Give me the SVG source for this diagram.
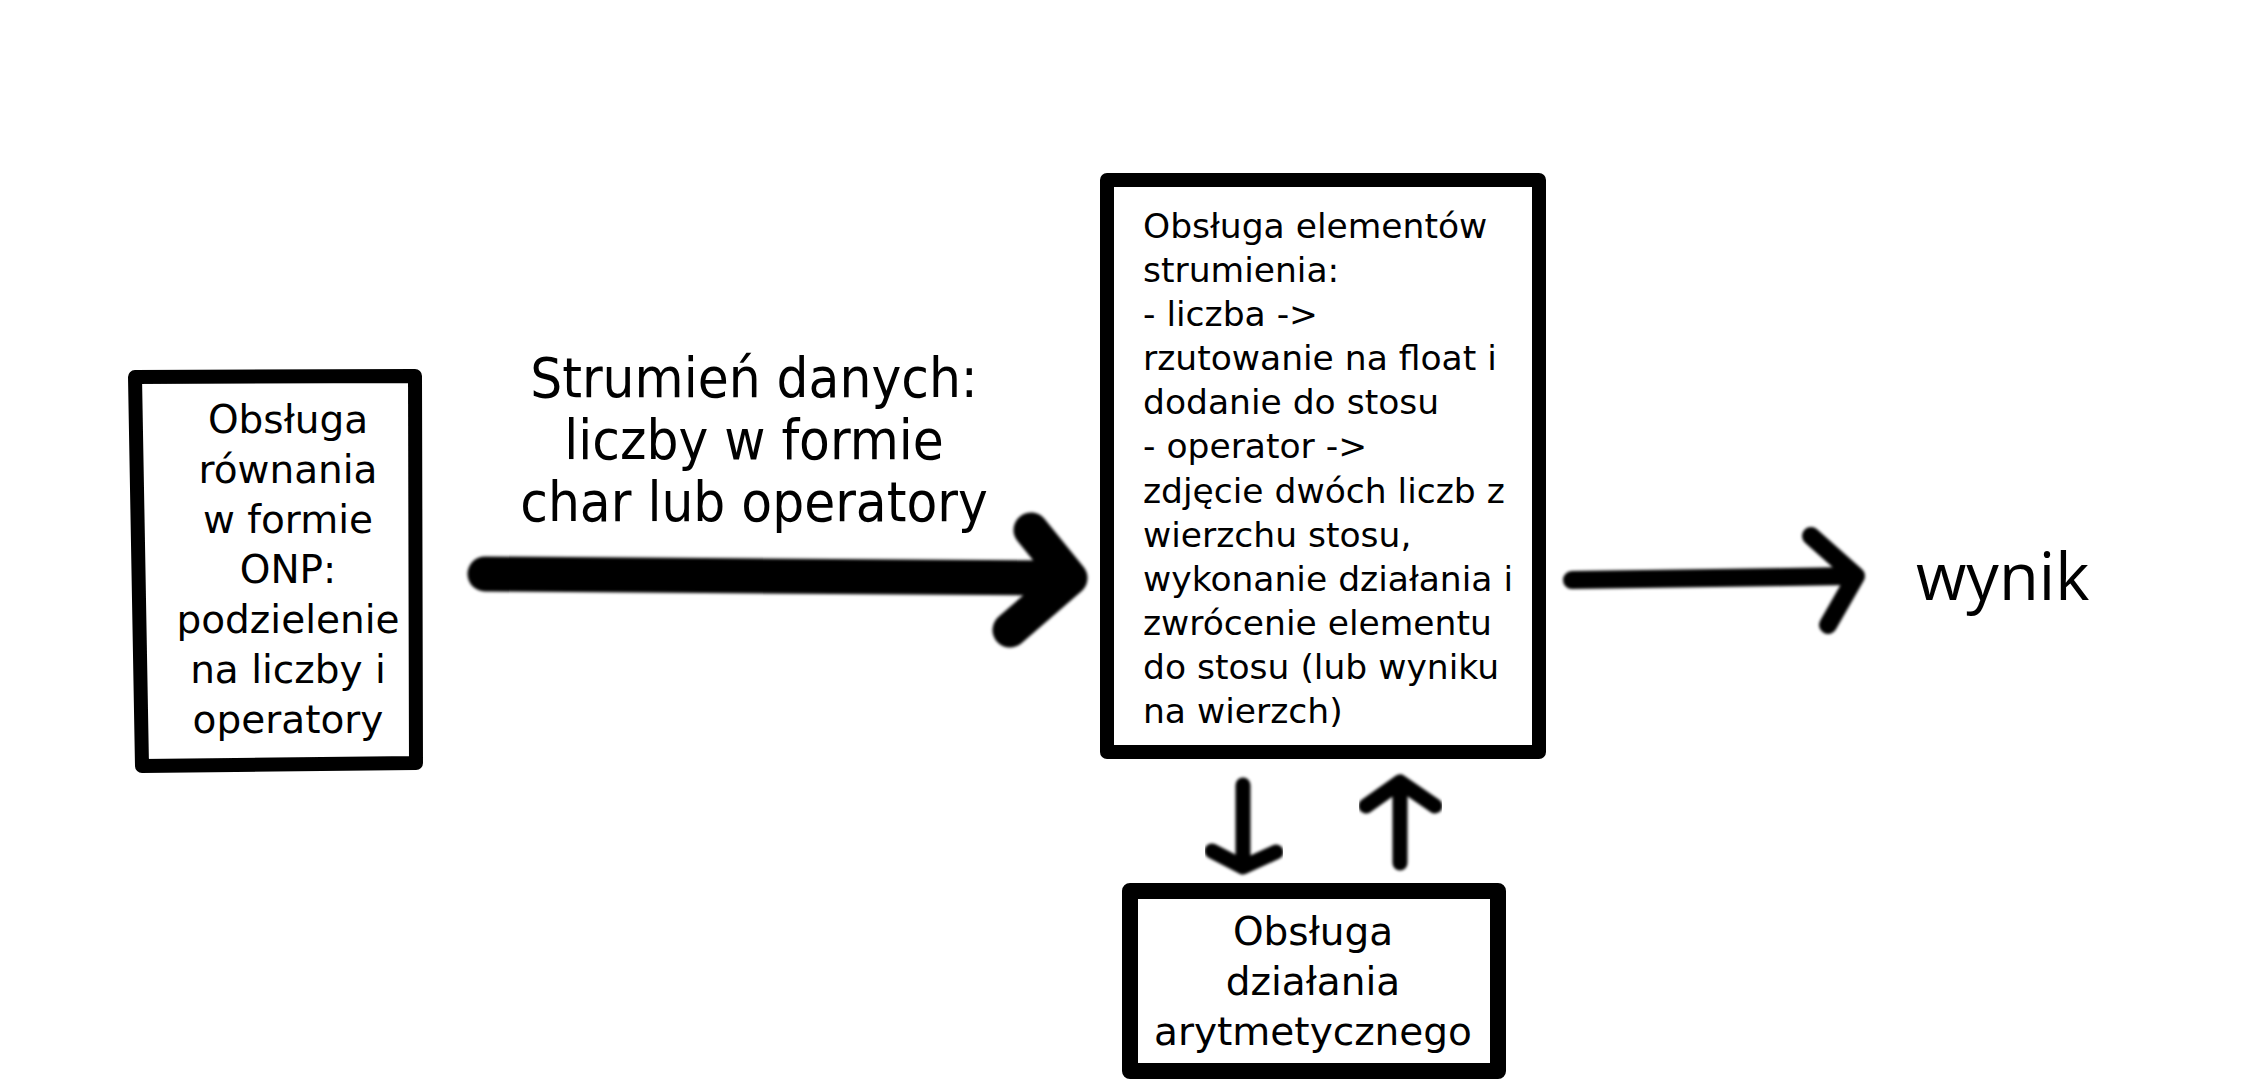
<svg xmlns="http://www.w3.org/2000/svg" width="2268" height="1080" viewBox="0 0 2268 1080">
  <defs>
    <style>
      .box { fill: #ffffff; stroke: #000000; stroke-linejoin: round; }
      .t39 { font-family: "DejaVu Sans", "Noto Sans", sans-serif; font-size: 39px; fill: #000000; text-anchor: middle; }
      .t34 { font-family: "DejaVu Sans", "Noto Sans", sans-serif; font-size: 34.5px; fill: #000000; }
      .lbl { font-family: "DejaVu Sans Condensed", "DejaVu Sans", sans-serif; font-stretch: condensed; font-size: 56px; fill: #000000; text-anchor: middle; }
      .out { font-family: "Open Sans", "Noto Sans", sans-serif; font-size: 65px; fill: #000000; }
      .arrow { fill: none; stroke: #000000; stroke-linecap: round; stroke-linejoin: round; }
    </style>
    <filter id="soft" x="-10%" y="-50%" width="120%" height="200%">
      <feGaussianBlur stdDeviation="1.8"/>
    </filter>
    <filter id="softbox" x="-5%" y="-5%" width="110%" height="110%">
      <feGaussianBlur stdDeviation="0.7"/>
    </filter>
  </defs>
  <rect x="0" y="0" width="2268" height="1080" fill="#ffffff"/>

  <g id="node-onp">
    <path class="box" filter="url(#softbox)" stroke-width="14" d="M135,377 L415,376 L416,763 L142,766 Z"/>
    <text class="t39" x="288" y="433">Obsługa</text>
    <text class="t39" x="288" y="483">równania</text>
    <text class="t39" x="288" y="533">w formie</text>
    <text class="t39" x="288" y="583">ONP:</text>
    <text class="t39" x="288" y="633">podzielenie</text>
    <text class="t39" x="288" y="683">na liczby i</text>
    <text class="t39" x="288" y="733">operatory</text>
  </g>

  <g id="node-stream">
    <rect class="box" filter="url(#softbox)" stroke-width="14" x="1107" y="180" width="432" height="572"/>
    <text class="t34" x="1143" y="238">Obsługa elementów</text>
    <text class="t34" x="1143" y="282">strumienia:</text>
    <text class="t34" x="1143" y="326">- liczba -&gt;</text>
    <text class="t34" x="1143" y="370">rzutowanie na float i</text>
    <text class="t34" x="1143" y="414">dodanie do stosu</text>
    <text class="t34" x="1143" y="458">- operator -&gt;</text>
    <text class="t34" x="1143" y="503">zdjęcie dwóch liczb z</text>
    <text class="t34" x="1143" y="547">wierzchu stosu,</text>
    <text class="t34" x="1143" y="591">wykonanie działania i</text>
    <text class="t34" x="1143" y="635">zwrócenie elementu</text>
    <text class="t34" x="1143" y="679">do stosu (lub wyniku</text>
    <text class="t34" x="1143" y="723">na wierzch)</text>
  </g>

  <g id="node-arith">
    <rect class="box" filter="url(#softbox)" stroke-width="16" x="1130" y="891" width="368" height="180"/>
    <text class="t39" x="1313" y="945">Obsługa</text>
    <text class="t39" x="1313" y="995">działania</text>
    <text class="t39" x="1313" y="1045">arytmetycznego</text>
  </g>

  <g id="node-result">
    <text class="out" x="1916" y="600">wynik</text>
  </g>

  <g id="connectors">
    <g id="edge-stream">
      <g filter="url(#soft)">
        <path class="arrow" stroke-width="35" d="M485,574 L1062,578"/>
        <path class="arrow" stroke-width="35" d="M1031,530 L1070,578 L1010,630"/>
      </g>
      <text class="lbl" x="754" y="397">Strumień danych:</text>
      <text class="lbl" x="754" y="459">liczby w formie</text>
      <text class="lbl" x="754" y="521">char lub operatory</text>
    </g>
    <g id="edge-result" filter="url(#soft)">
      <path class="arrow" stroke-width="18" d="M1572,580 L1852,576"/>
      <path class="arrow" stroke-width="18" d="M1811,536 L1856,576 L1828,625"/>
    </g>
    <g id="edge-down" filter="url(#soft)">
      <path class="arrow" stroke-width="15" d="M1243,785 L1243,866"/>
      <path class="arrow" stroke-width="15" d="M1212,851 L1243,867 L1276,852"/>
    </g>
    <g id="edge-up" filter="url(#soft)">
      <path class="arrow" stroke-width="15" d="M1400,863 L1400,783"/>
      <path class="arrow" stroke-width="15" d="M1366,806 L1400,782 L1435,806"/>
    </g>
  </g>
</svg>
